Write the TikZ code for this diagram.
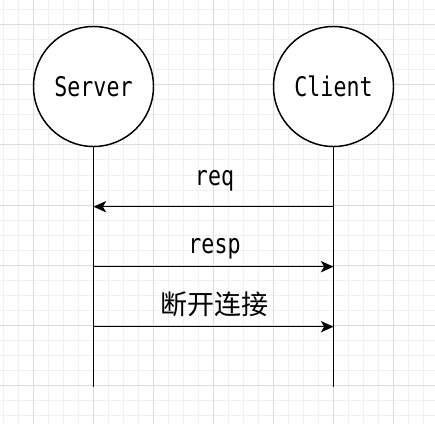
\documentclass[tikz,border=0pt]{standalone}
\usepackage{fontspec}
\usetikzlibrary{arrows.meta}
\newfontfamily\lblfont[FakeStretch=0.8]{DejaVu Sans Mono}
\newfontfamily\cjkfont{Noto Sans CJK SC}
\definecolor{gridminor}{HTML}{F0F0F0}
\definecolor{gridmajor}{HTML}{DCDCDC}
\begin{document}
\begin{tikzpicture}[x=0.75pt,y=-0.75pt,
  actor/.style={circle,draw=black,line width=1.1pt,fill=white,minimum size=90pt,inner sep=0pt,
    font=\lblfont\fontsize{20.25pt}{24pt}\selectfont},
  life/.style={draw=black,line width=1.1pt},
  msg/.style={draw=black,line width=1.1pt,-{Stealth[length=9.5pt,width=8.5pt,inset=2.5pt]}},
  lbl/.style={anchor=base,inner sep=0pt,font=\lblfont\fontsize{20.25pt}{24pt}\selectfont},
  cjklbl/.style={anchor=base,inner sep=0pt,font=\cjkfont\fontsize{20.25pt}{24pt}\selectfont}]
\useasboundingbox (0,0) rectangle (435,424);
\fill[white] (0,0) rectangle (435,424);
% grid
\foreach \i in {0,...,28}{
  \draw[gridminor,line width=0.75pt] ({3.3+15*\i},0) -- ({3.3+15*\i},424);
}
\foreach \i in {0,...,27}{
  \draw[gridminor,line width=0.75pt] (0,{10+15*\i}) -- (435,{10+15*\i});
}
\foreach \i in {0,...,6}{
  \draw[gridmajor,line width=0.75pt] ({33.3+60*\i},0) -- ({33.3+60*\i},424);
}
\foreach \i in {0,...,6}{
  \draw[gridmajor,line width=0.75pt] (0,{25+60*\i}) -- (435,{25+60*\i});
}
% actors
\node[actor] (srv) at (93.5,86.5) {Server};
\node[actor] (cli) at (333.5,86.5) {Client};
% lifeline ends
\coordinate (srvEnd) at (93.5,386.5);
\coordinate (cliEnd) at (333.5,386.5);
\draw[life] (srv.south) -- (srvEnd);
\draw[life] (cli.south) -- (cliEnd);
% message points
\coordinate (s1) at (93.5,206.7);
\coordinate (c1) at (333.5,206.7);
\coordinate (s2) at (93.5,266.7);
\coordinate (c2) at (333.5,266.7);
\coordinate (s3) at (93.5,326.7);
\coordinate (c3) at (333.5,326.7);
\draw[msg] (c1) -- (s1);
\draw[msg] (s2) -- (c2);
\draw[msg] (s3) -- (c3);
% labels
\node[lbl] (lreq) at (214.5,185.5) {req};
\node[lbl] (lresp) at (214.5,253) {resp};
\node[cjklbl] (ldis) at (214.5,314) {断开连接};
\end{tikzpicture}
\end{document}
